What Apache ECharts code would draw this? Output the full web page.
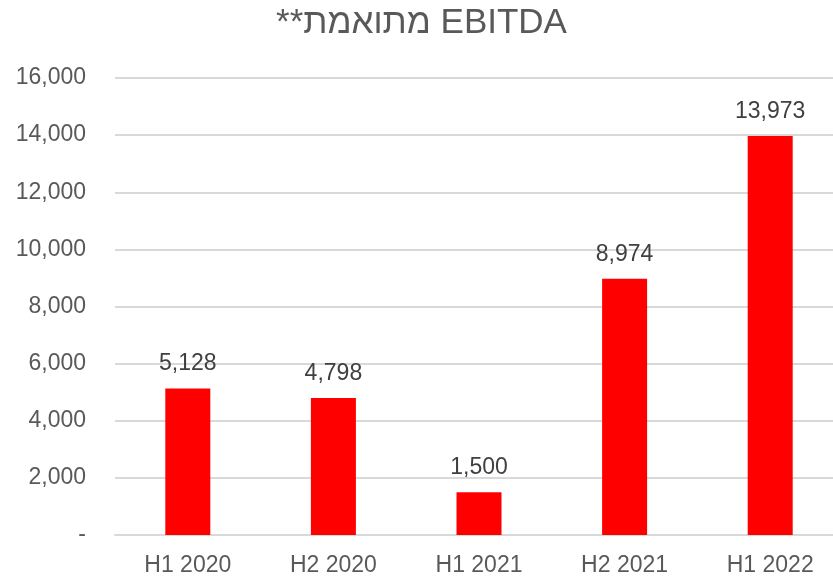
<!DOCTYPE html>
<html>
<head>
<meta charset="utf-8">
<script src="https://cdn.jsdelivr.net/npm/echarts@6/dist/echarts.min.js"></script>
<style>
    html, body { margin: 0; padding: 0; background: #fff; overflow: hidden; }
    /* the original is cropped on the right, so the canvas is a bit wider than the window */
    #chart { width: 843px; height: 577px; }
</style>
</head>
<body>
<div id="chart"></div>
<script>
    // data
    var categories = ['H1 2020', 'H2 2020', 'H1 2021', 'H2 2021', 'H1 2022'];
    var ebitda = [5128, 4798, 1500, 8974, 13973];
    var titleText = '**מתואמת EBITDA';

    var fmt = function (v) {
        return v === 0 ? '-' : v.toLocaleString('en-US');
    };

    var myChart = echarts.init(document.getElementById('chart'));
    var option = {
        backgroundColor: '#fff',
        textStyle: { fontFamily: 'Liberation Sans, Arial, sans-serif' },
        title: {
            text: titleText,
            left: 'center',
            top: 1,
            textStyle: { color: '#595959', fontSize: 35, fontWeight: 'normal' }
        },
        grid: { left: 115, right: 0, top: 78, bottom: 42 },
        xAxis: {
            type: 'category',
            data: categories,
            axisLine: { show: true, lineStyle: { color: '#d9d9d9', width: 2 } },
            axisTick: { show: false },
            axisLabel: { color: '#595959', fontSize: 23, margin: 19 }
        },
        yAxis: {
            type: 'value',
            min: 0,
            max: 16000,
            interval: 2000,
            axisLine: { show: false },
            axisTick: { show: false },
            splitLine: { lineStyle: { color: '#d9d9d9', width: 2 } },
            axisLabel: { color: '#595959', fontSize: 23, margin: 29, formatter: fmt }
        },
        series: [{
            type: 'bar',
            data: ebitda,
            barWidth: 45,
            itemStyle: { color: '#ff0000' },
            label: {
                show: true,
                position: 'top',
                distance: 13,
                color: '#404040',
                fontSize: 23,
                formatter: function (p) { return fmt(p.value); }
            }
        }]
    };
    myChart.setOption(option);
</script>
</body>
</html>
